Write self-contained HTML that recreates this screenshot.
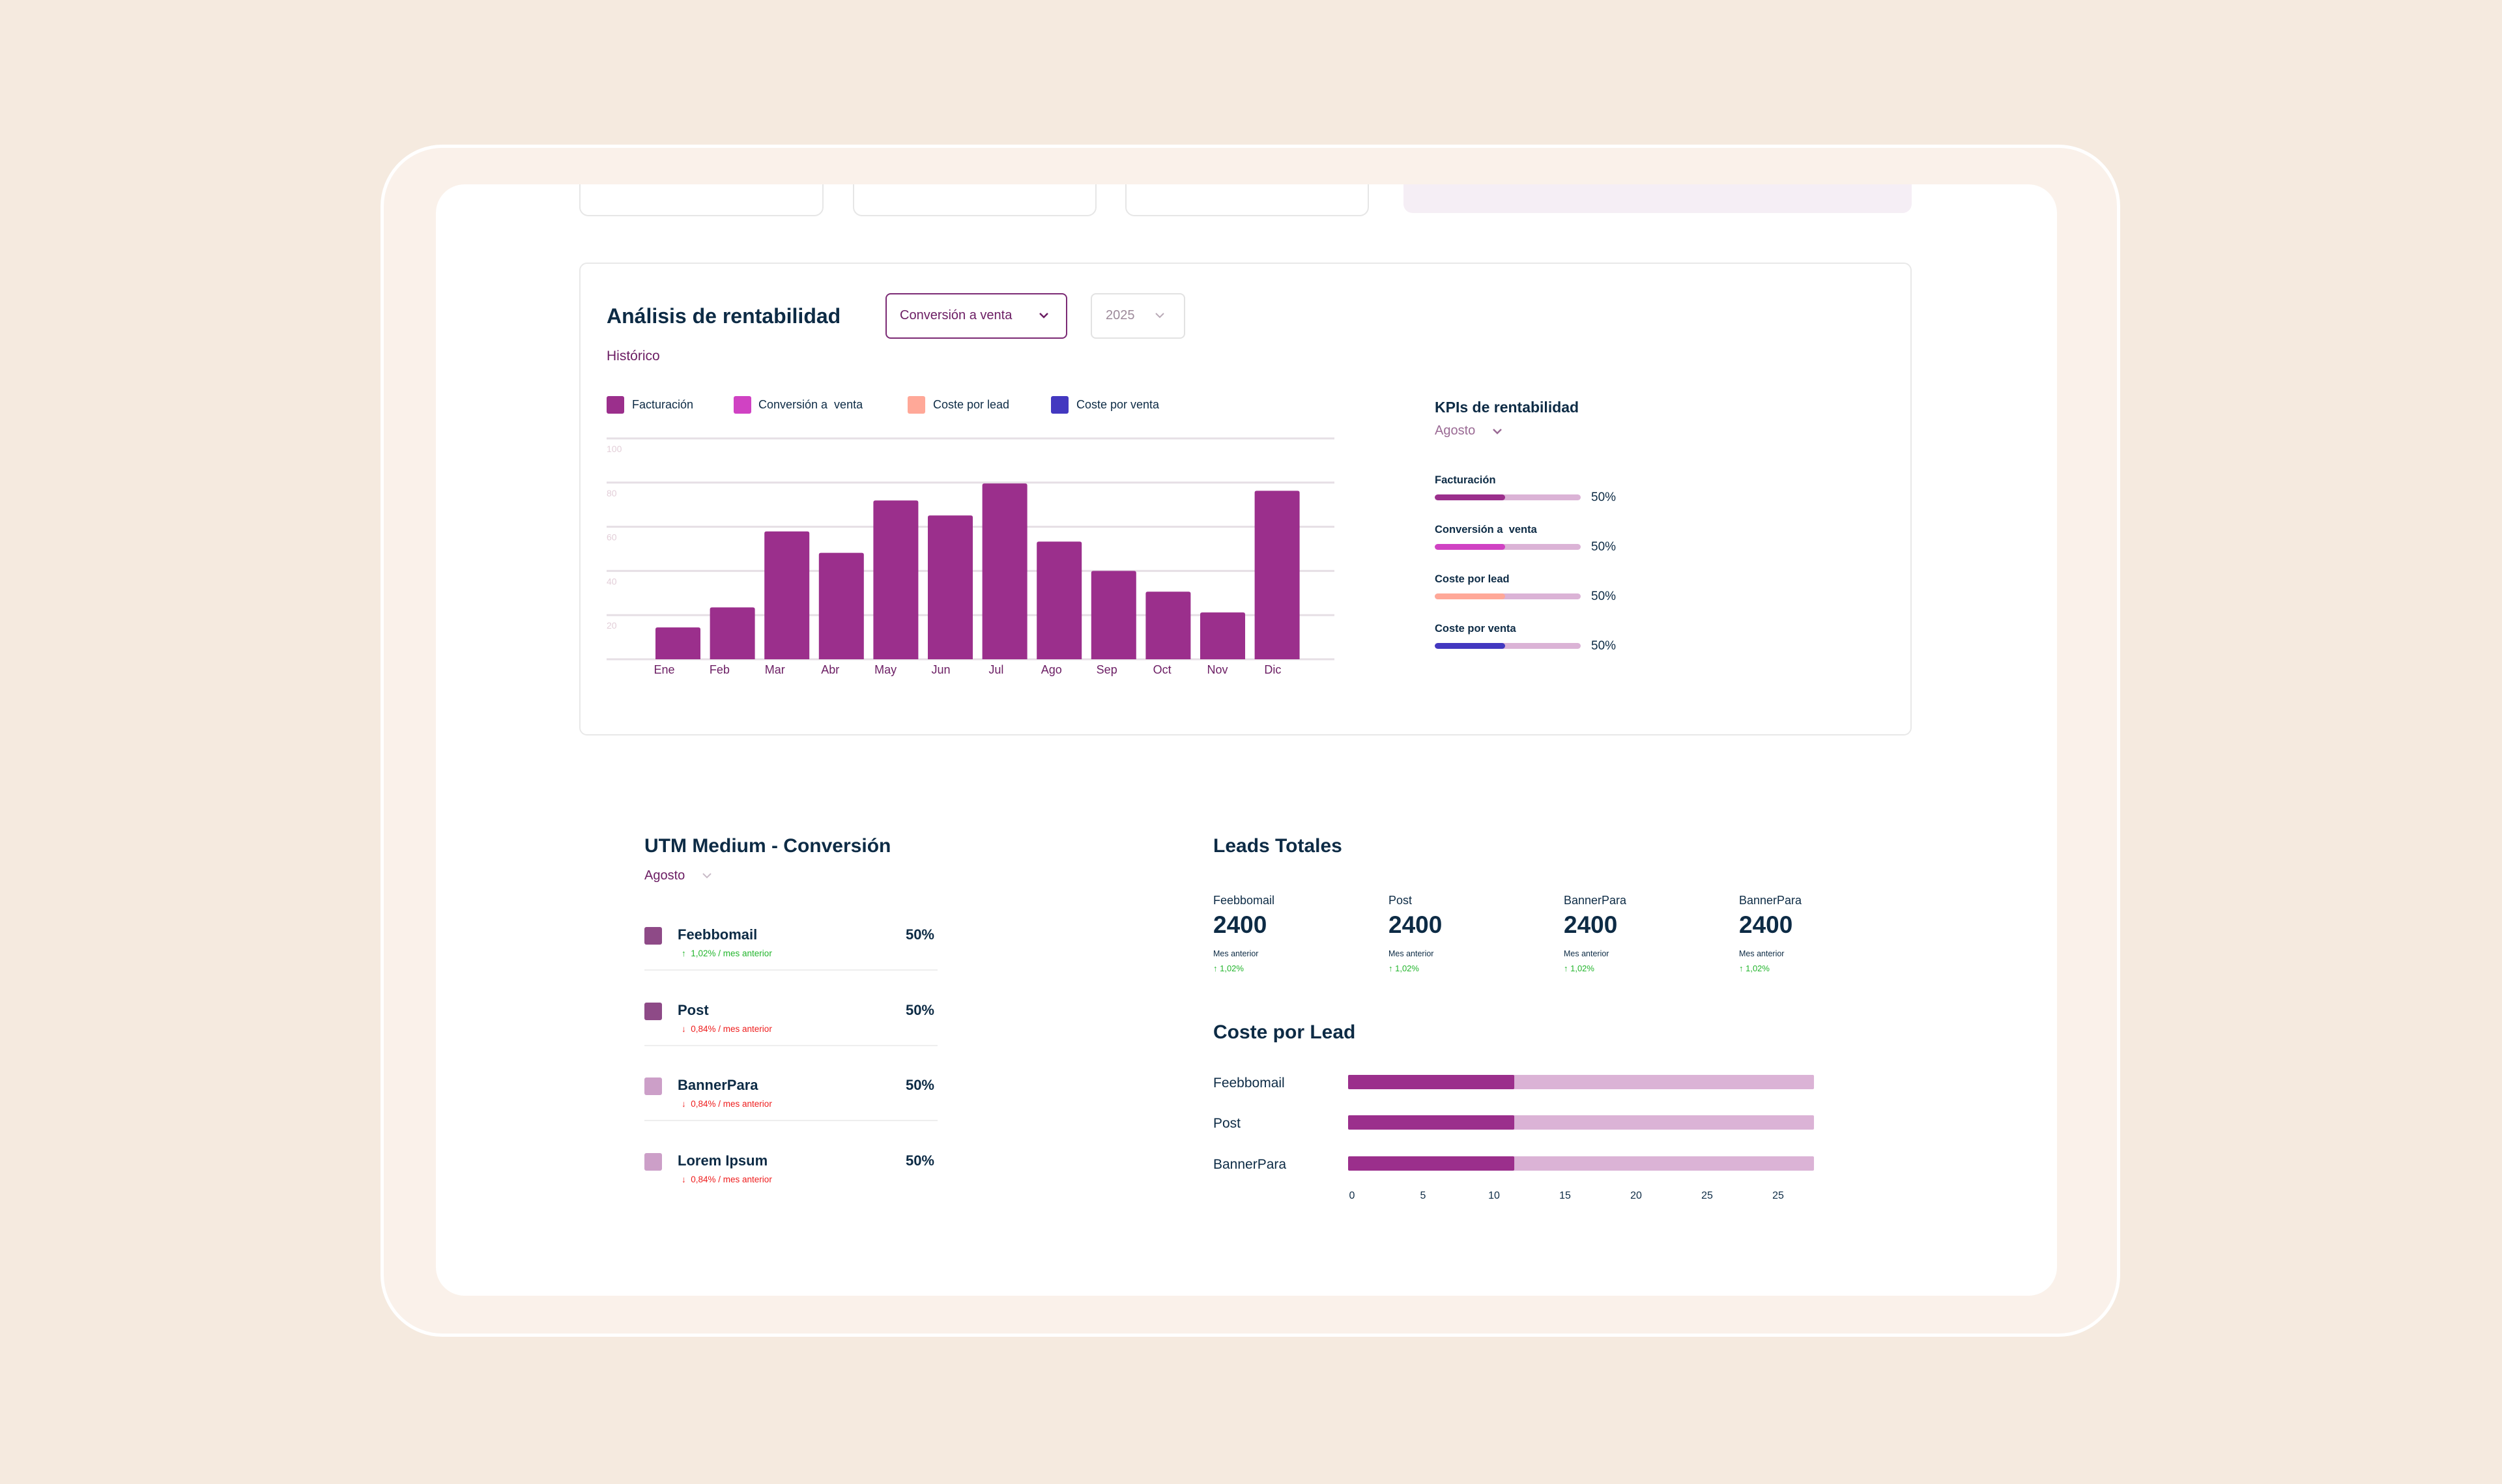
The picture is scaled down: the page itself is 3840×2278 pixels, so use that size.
<!DOCTYPE html>
<html><head><meta charset="utf-8">
<style>
html,body{margin:0;padding:0}
body{width:3840px;height:2278px;background:#F5EADF;position:relative;overflow:hidden;font-family:"Liberation Sans",sans-serif;color:#0d2b45}
.a{position:absolute}
.t{position:absolute;white-space:nowrap;line-height:1}
.b{font-weight:bold}
</style></head>
<body>
<div class="a" style="left:584px;top:222px;width:2660px;height:1820px;background:#FAF1EA;border:5px solid #fff;border-radius:95px"></div>
<div class="a" style="left:669px;top:283px;width:2488px;height:1706px;background:#fff;border-radius:44px;overflow:hidden">
  <div class="a" style="left:220px;top:-60px;width:371px;height:105px;border:2px solid #e6e6e6;border-radius:14px"></div>
  <div class="a" style="left:640px;top:-60px;width:370px;height:105px;border:2px solid #e6e6e6;border-radius:14px"></div>
  <div class="a" style="left:1058px;top:-60px;width:370px;height:105px;border:2px solid #e6e6e6;border-radius:14px"></div>
  <div class="a" style="left:1485px;top:-60px;width:780px;height:104px;background:#F5EEF5;border-radius:14px"></div>
  <div class="a" style="left:220px;top:120px;width:2041px;height:722px;border:2px solid #e8e8e8;border-radius:12px"></div>
</div>

<div class="t b" style="left:931px;top:469px;font-size:32px">Análisis de rentabilidad</div>
<div class="a" style="left:1359px;top:450px;width:275px;height:66px;border:2px solid #7b2a74;border-radius:8px"></div>
<div class="t" style="left:1381px;top:474px;font-size:20px;color:#6b1d63">Conversión a venta</div>
<svg class="a" style="left:1594px;top:478px" width="16" height="12"><path d="M2 3 L8 9 L14 3" fill="none" stroke="#6b1d63" stroke-width="2.5"/></svg>
<div class="a" style="left:1674px;top:450px;width:141px;height:66px;border:2px solid #e2e2e2;border-radius:8px"></div>
<div class="t" style="left:1697px;top:474px;font-size:20px;color:#9d8a9a">2025</div>
<svg class="a" style="left:1772px;top:478px" width="16" height="12"><path d="M2 3 L8 9 L14 3" fill="none" stroke="#b9aab7" stroke-width="2"/></svg>
<div class="t" style="left:931px;top:536px;font-size:21px;color:#6b1d63">Histórico</div>

<div class="a" style="left:931px;top:608px;width:27px;height:27px;background:#9b2f8c;border-radius:3px"></div>
<div class="t" style="left:970px;top:612px;font-size:18px">Facturación</div>
<div class="a" style="left:1126px;top:608px;width:27px;height:27px;background:#d042c3;border-radius:3px"></div>
<div class="t" style="left:1164px;top:612px;font-size:18px">Conversión a&nbsp; venta</div>
<div class="a" style="left:1393px;top:608px;width:27px;height:27px;background:#ffa898;border-radius:3px"></div>
<div class="t" style="left:1432px;top:612px;font-size:18px">Coste por lead</div>
<div class="a" style="left:1613px;top:608px;width:27px;height:27px;background:#4338c0;border-radius:3px"></div>
<div class="t" style="left:1652px;top:612px;font-size:18px">Coste por venta</div>

<svg id="chart" class="a" style="left:0;top:0" width="3840" height="2278"></svg>

<!-- KPI panel -->
<div class="t b" style="left:2202px;top:614px;font-size:23px">KPIs de rentabilidad</div>
<div class="t" style="left:2202px;top:651px;font-size:20px;color:#9a6a94">Agosto</div>
<svg class="a" style="left:2290px;top:656px" width="16" height="12"><path d="M2 3 L8 9 L14 3" fill="none" stroke="#9a6a94" stroke-width="2.5"/></svg>
<div id="kpis"></div>

<!-- UTM -->
<div class="t b" style="left:989px;top:1284px;font-size:30px">UTM Medium - Conversión</div>
<div class="t" style="left:989px;top:1334px;font-size:20px;color:#6b1d63">Agosto</div>
<svg class="a" style="left:1077px;top:1338px" width="16" height="12"><path d="M2 3 L8 9 L14 3" fill="none" stroke="#c9bcc8" stroke-width="2"/></svg>
<div id="utm"></div>

<!-- Leads -->
<div class="t b" style="left:1862px;top:1284px;font-size:30px">Leads Totales</div>
<div id="leads"></div>
<div class="t b" style="left:1862px;top:1570px;font-size:30px">Coste por Lead</div>
<svg id="cpl" class="a" style="left:0;top:0" width="3840" height="2278"></svg>

<script>
// ---- bar chart data ----
const months = ["Ene","Feb","Mar","Abr","May","Jun","Jul","Ago","Sep","Oct","Nov","Dic"];
const facturacion = [14.4,23.5,57.9,48.2,71.9,65.1,79.6,53.3,40,30.6,21.2,76.3];
const yTicks = [0,20,40,60,80,100];
const yTickLabels = ["","20","40","60","80","100"];

// ---- KPI data ----
const kpiNames = ["Facturación","Conversión a\u00a0 venta","Coste por lead","Coste por venta"];
const kpiValues = [48,48,48,48];
const kpiLabels = ["50%","50%","50%","50%"];
const kpiColors = ["#9b2f8c","#d042c3","#ffa898","#4338c0"];

// ---- UTM data ----
const utmNames = ["Feebbomail","Post","BannerPara","Lorem Ipsum"];
const utmPct = ["50%","50%","50%","50%"];
const utmDelta = ["1,02% / mes anterior","0,84% / mes anterior","0,84% / mes anterior","0,84% / mes anterior"];
const utmUp = [true,false,false,false];
const utmColors = ["#8e4a87","#8e4a87","#cc9fc8","#cc9fc8"];

// ---- Leads data ----
const leadNames = ["Feebbomail","Post","BannerPara","BannerPara"];
const leadValues = ["2400","2400","2400","2400"];
const leadDelta = ["1,02%","1,02%","1,02%","1,02%"];

// ---- Cost per lead data ----
const cplNames = ["Feebbomail","Post","BannerPara"];
const cplValues = [11.7,11.7,11.7];
const cplMax = 32.8;
const cplTicks = [0,5,10,15,20,25,30];
const cplTickLabels = ["0","5","10","15","20","25","25"];

const NS="http://www.w3.org/2000/svg";
function mk(tag,attrs,parent){const e=document.createElementNS(NS,tag);for(const k in attrs)e.setAttribute(k,attrs[k]);parent.appendChild(e);return e;}

// bar chart
const svg=document.getElementById('chart');
const y=v=>1012-v*3.39;
const bandX=i=>1006+i*83.6;
const bw=69;
yTicks.forEach((t,i)=>{
  const l=mk('line',{x1:931,x2:2048,y1:y(t),y2:y(t),stroke:'#e6dfe5','stroke-width':3},svg);
  
  
  if(yTickLabels[i]){
    const tx=mk('text',{x:931,y:y(t)+21,'font-size':14,fill:'#e3cfd9','font-family':'Liberation Sans, sans-serif'},svg);
    tx.textContent=yTickLabels[i];
    
    
  }
});
months.forEach((m,i)=>{
  const v=facturacion[i];
  const r=mk('path',{d:`M${bandX(i)} ${y(0)} V${y(v)+3} Q${bandX(i)} ${y(v)} ${bandX(i)+3} ${y(v)} H${bandX(i)+bw-3} Q${bandX(i)+bw} ${y(v)} ${bandX(i)+bw} ${y(v)+3} V${y(0)} Z`,fill:'#9b2f8c'},svg);
  
  
  const tx=mk('text',{x:bandX(i)+bw/2-21+i*1.3,y:1034,'font-size':18,fill:'#6b1d63','text-anchor':'middle','font-family':'Liberation Sans, sans-serif'},svg);
  tx.textContent=m;
  
  
});

// KPIs
const kp=document.getElementById('kpis');
kpiNames.forEach((n,i)=>{
  const top=76*i;
  const lab=document.createElement('div');lab.className='t';
  lab.style.cssText=`left:2202px;top:${729+top}px;font-size:16.5px;font-weight:bold`;
  lab.textContent=n;
  
  
  kp.appendChild(lab);
  const tr=document.createElement('div');tr.className='a';
  tr.style.cssText=`left:2202px;top:${759+top}px;width:224px;height:9px;background:#dbb3d6;border-radius:5px;overflow:hidden`;
  
  
  const f=document.createElement('div');f.className='a';
  f.style.cssText=`left:0;top:0;height:9px;width:${kpiValues[i]/100*224}px;background:${kpiColors[i]};border-radius:5px`;
  
  
  tr.appendChild(f);kp.appendChild(tr);
  const p=document.createElement('div');p.className='t';
  p.style.cssText=`left:2442px;top:${754+top}px;font-size:19px`;
  p.textContent=kpiLabels[i];
  
  
  kp.appendChild(p);
});

// UTM
const ut=document.getElementById('utm');
utmNames.forEach((n,i)=>{
  const o=115.5*i;
  const sq=document.createElement('div');sq.className='a';
  sq.style.cssText=`left:989px;top:${1423+o}px;width:27px;height:27px;border-radius:3px;background:${utmColors[i]}`;
  
  
  ut.appendChild(sq);
  const nm=document.createElement('div');nm.className='t';
  nm.style.cssText=`left:1040px;top:${1424+o}px;font-size:22px;font-weight:bold`;
  nm.textContent=n;
  
  
  ut.appendChild(nm);
  const pc=document.createElement('div');pc.className='t';
  pc.style.cssText=`right:${3840-1434}px;top:${1424+o}px;font-size:22px;font-weight:bold`;
  pc.textContent=utmPct[i];
  
  
  ut.appendChild(pc);
  const d=document.createElement('div');d.className='t';
  d.style.cssText=`left:1046px;top:${1457+o}px;font-size:13.5px;color:${utmUp[i]?'#22b52c':'#ee1c1c'}`;
  d.textContent=(utmUp[i]?'↑':'↓')+'\u00a0\u00a0'+utmDelta[i];
  
  
  ut.appendChild(d);
  if(i<3){
    const s=document.createElement('div');s.className='a';
    s.style.cssText=`left:989px;top:${1488+o}px;width:450px;height:2px;background:#eeeeee`;
    
    
    ut.appendChild(s);
  }
});

// Leads
const ld=document.getElementById('leads');
leadNames.forEach((n,i)=>{
  const x=1862+269*i;
  const a=document.createElement('div');a.className='t';
  a.style.cssText=`left:${x}px;top:${1373}px;font-size:18px`;
  a.textContent=n;
  
  
  ld.appendChild(a);
  const b=document.createElement('div');b.className='t';
  b.style.cssText=`left:${x}px;top:${1401}px;font-size:37px;font-weight:bold`;
  b.textContent=leadValues[i];
  
  
  ld.appendChild(b);
  const c=document.createElement('div');c.className='t';
  c.style.cssText=`left:${x}px;top:${1458}px;font-size:12.5px`;
  c.textContent='Mes anterior';
  
  
  ld.appendChild(c);
  const e=document.createElement('div');e.className='t';
  e.style.cssText=`left:${x}px;top:${1480}px;font-size:13px;color:#22b52c`;
  e.textContent='↑ '+leadDelta[i];
  
  
  ld.appendChild(e);
});

// Cost per lead
const cs=document.getElementById('cpl');
const cx=v=>2069+v*21.8;
const rowY=[1661,1723,1786];
cplNames.forEach((n,i)=>{
  const tx=mk('text',{x:1862,y:rowY[i]+8,'font-size':21,fill:'#0d2b45','font-family':'Liberation Sans, sans-serif'},cs);
  tx.textContent=n;
  
  
  const tr=mk('rect',{x:cx(0),y:rowY[i]-11,width:cx(cplMax)-cx(0),height:22,rx:2,fill:'#dbb3d6'},cs);
  
  
  const b=mk('rect',{x:cx(0),y:rowY[i]-11,width:cx(cplValues[i])-cx(0),height:22,rx:2,fill:'#9b2f8c'},cs);
  
  
});
cplTicks.forEach((t,i)=>{
  const tx=mk('text',{x:cx(t)+6,y:1840,'font-size':16,fill:'#0d2b45','text-anchor':'middle','font-family':'Liberation Sans, sans-serif'},cs);
  tx.textContent=cplTickLabels[i];
  
  
});
</script>
</body></html>
